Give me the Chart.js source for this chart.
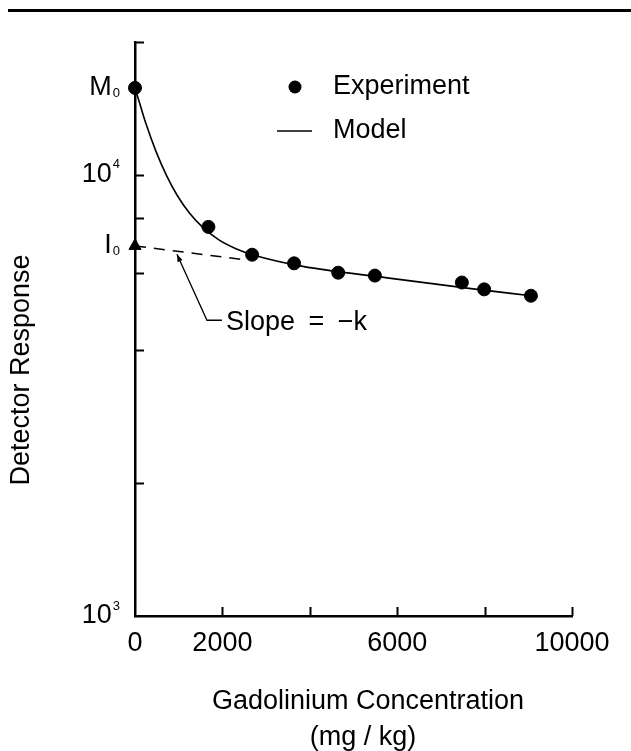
<!DOCTYPE html>
<html>
<head>
<meta charset="utf-8">
<script src="https://cdn.jsdelivr.net/npm/chart.js@4.4.0/dist/chart.umd.min.js"></script>
<style>
  html, body { margin: 0; padding: 0; background: #fff; }
</style>
</head>
<body>
<canvas id="chart" width="631" height="751"></canvas>
<script>
// Experiment points (mg/kg, detector response)
const expX = [0, 1680, 2680, 3640, 4650, 5490, 7480, 7990, 9060];
const expY = [15740, 7620, 6590, 6300, 6000, 5910, 5700, 5500, 5320];

// Model curve
const modelX = [0, 100, 240, 480, 720, 960, 1250, 1540, 1920, 2310, 2690, 3840, 5770, 7690, 9060];
const modelY = [15740, 14600, 13150, 11300, 9970, 9000, 8180, 7620, 7120, 6800, 6590, 6200, 5840, 5520, 5320];

// dashed extrapolation of the straight part back to zero
const slopeX = [0, 2550];
const slopeY = [6900, 6410];

// I0 marker
const i0X = [0];
const i0Y = [6900];

// axis ticks and labels
const xTicks = [0, 2000, 4000, 6000, 8000, 10000];
const xLabels = ['0', '2000', '', '6000', '', '10000'];
const yTicks = [2000, 4000, 6000, 8000, 10000, 20000];
const yLabelValues = [1000, 10000, 15740, 6900];
const yLabelMain = ['10', '10', 'M', 'I'];
const yLabelSmall = ['3', '4', '0', '0'];

// where the "Slope = -k" arrow points (on the dashed line)
const slopeNoteX = 960;
const slopeNoteY = 6710;

const FONT = "'Liberation Sans', Arial, Helvetica, sans-serif";

function pts(xs, ys) {
  return xs.map((x, i) => ({ x: x, y: ys[i] }));
}

// Function to draw the hand-made parts of the figure
const figurePlugin = {
  id: 'figure',
  afterDraw(chart) {
    const ctx = chart.ctx;
    const xs = chart.scales.x;
    const ys = chart.scales.y;
    const area = chart.chartArea;
    ctx.save();
    ctx.fillStyle = '#000';
    ctx.strokeStyle = '#000';

    // rule across the top of the page
    ctx.fillRect(8, 9, 623, 3);

    // inward tick marks
    ctx.lineWidth = 2;
    yTicks.forEach(v => {
      const y = Math.round(ys.getPixelForValue(v)) + 0.5;
      ctx.beginPath();
      ctx.moveTo(area.left, y);
      ctx.lineTo(area.left + 9, y);
      ctx.stroke();
    });
    xTicks.slice(1).forEach(v => {
      const x = Math.round(xs.getPixelForValue(v)) + 0.5;
      ctx.beginPath();
      ctx.moveTo(x, area.bottom);
      ctx.lineTo(x, area.bottom - 9);
      ctx.stroke();
    });

    // y labels with super/subscripts
    const right = area.left - 15;
    ctx.textBaseline = 'middle';
    yLabelValues.forEach((v, i) => {
      const y = ys.getPixelForValue(v);
      const up = yLabelMain[i] === '10';
      ctx.font = '13px ' + FONT;
      ctx.textAlign = 'right';
      const sw = ctx.measureText(yLabelSmall[i]).width;
      ctx.fillText(yLabelSmall[i], right, up ? y - 10 : y + 6);
      ctx.font = '27px ' + FONT;
      ctx.fillText(yLabelMain[i], right - sw - 1, y);
    });

    // axis titles
    ctx.font = '27px ' + FONT;
    ctx.textAlign = 'center';
    ctx.save();
    ctx.translate(22, 370);
    ctx.rotate(-Math.PI / 2);
    ctx.fillText('Detector Response', 0, 0);
    ctx.restore();
    ctx.fillText('Gadolinium Concentration', 368, 702);
    ctx.fillText('(mg / kg)', 363, 738);

    // legend
    ctx.textAlign = 'left';
    ctx.beginPath();
    ctx.arc(area.left + 160, area.top + 45, 6.5, 0, Math.PI * 2);
    ctx.fill();
    ctx.fillText('Experiment', area.left + 198, area.top + 45);
    ctx.lineWidth = 1.5;
    ctx.beginPath();
    ctx.moveTo(area.left + 142, area.top + 89);
    ctx.lineTo(area.left + 177, area.top + 89);
    ctx.stroke();
    ctx.fillText('Model', area.left + 198, area.top + 89);

    // slope note with leader arrow
    const tx = xs.getPixelForValue(slopeNoteX);
    const ty = ys.getPixelForValue(slopeNoteY) + 3;
    const ex = tx + 30, ey = ty + 66;
    ctx.lineWidth = 1.3;
    ctx.beginPath();
    ctx.moveTo(ex + 15, ey);
    ctx.lineTo(ex, ey);
    ctx.lineTo(tx, ty);
    ctx.stroke();
    const ang = Math.atan2(ey - ty, ex - tx);
    ctx.beginPath();
    ctx.moveTo(tx, ty);
    ctx.lineTo(tx + 8 * Math.cos(ang - 0.35), ty + 8 * Math.sin(ang - 0.35));
    ctx.lineTo(tx + 8 * Math.cos(ang + 0.35), ty + 8 * Math.sin(ang + 0.35));
    ctx.closePath();
    ctx.fill();
    ctx.fillText('Slope\u2002=\u2002\u2212k', ex + 19, ey + 2);

    ctx.restore();
  }
};

const ctx = document.getElementById('chart').getContext('2d');
new Chart(ctx, {
  type: 'scatter',
  data: {
    datasets: [
      {
        label: 'Model',
        type: 'line',
        data: pts(modelX, modelY),
        borderColor: '#000',
        borderWidth: 1.6,
        pointRadius: 0,
        cubicInterpolationMode: 'monotone',
        fill: false,
        clip: false
      },
      {
        label: 'Extrapolation',
        type: 'line',
        data: pts(slopeX, slopeY),
        borderColor: '#000',
        borderWidth: 1.5,
        borderDash: [11, 8],
        pointRadius: 0,
        fill: false,
        clip: false
      },
      {
        label: 'Experiment',
        data: pts(expX, expY),
        pointRadius: 6.5,
        backgroundColor: '#000',
        borderColor: '#000',
        clip: false
      },
      {
        label: 'I0',
        data: pts(i0X, i0Y),
        pointStyle: 'triangle',
        pointRadius: 7,
        backgroundColor: '#000',
        borderColor: '#000',
        clip: false
      }
    ]
  },
  options: {
    responsive: false,
    animation: false,
    layout: { padding: { left: 6, right: 59, top: 42, bottom: 0 } },
    plugins: {
      legend: { display: false },
      tooltip: { enabled: false }
    },
    scales: {
      x: {
        type: 'linear',
        min: 0,
        max: 10000,
        afterBuildTicks: s => { s.ticks = xTicks.map(v => ({ value: v })); },
        afterFit: s => { s.height = 135; },
        grid: { display: false, drawTicks: false },
        border: { display: true, color: '#000', width: 2.5 },
        ticks: {
          color: '#000',
          font: { family: FONT, size: 27 },
          padding: 11,
          maxRotation: 0,
          autoSkip: false,
          callback: v => xLabels[xTicks.indexOf(v)]
        }
      },
      y: {
        type: 'logarithmic',
        min: 1000,
        max: 20000,
        afterFit: s => { s.width = 129; },
        grid: { display: false, drawTicks: false },
        border: { display: true, color: '#000', width: 2.5 },
        ticks: { display: false }
      }
    }
  },
  plugins: [figurePlugin]
});
</script>
</body>
</html>
